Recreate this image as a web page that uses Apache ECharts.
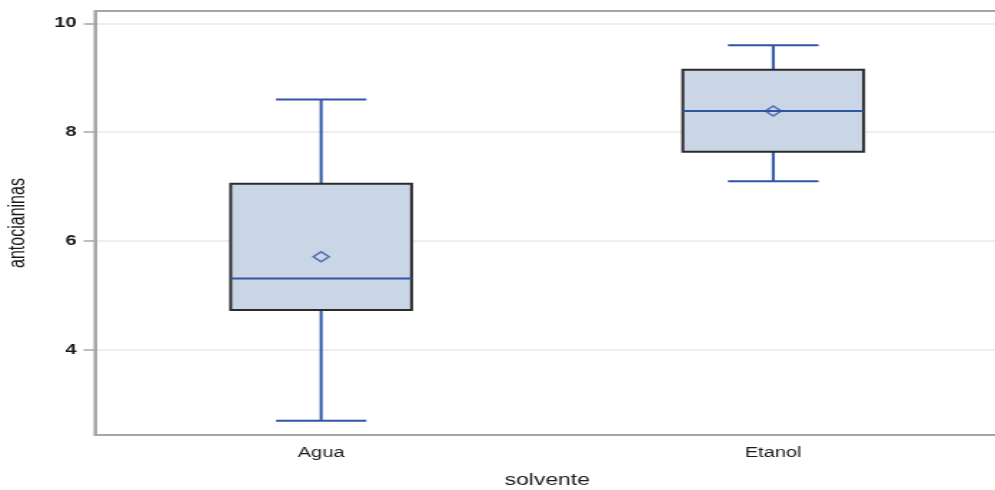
<!DOCTYPE html>
<html>
<head>
<meta charset="utf-8">
<title>antocianinas por solvente</title>
<script src="https://cdn.jsdelivr.net/npm/echarts@6/dist/echarts.min.js"></script>
<style>
  html, body { margin: 0; padding: 0; background: #ffffff; overflow: hidden; }
  /* the original picture is stretched sideways, so the chart is drawn narrow and stretched the same way */
  #main { width: 696px; height: 490px; transform: scaleX(1.4296); transform-origin: 0 0; }
</style>
</head>
<body>
<div id="main"></div>
<script>
// categorías y estadísticos de cada caja
const categories = ['Agua', 'Etanol'];
const lowWhisker = [2.69, 7.10];
const q1 = [4.73, 7.64];
const median = [5.31, 8.39];
const q3 = [7.05, 9.15];
const highWhisker = [8.60, 9.60];
const mean = [5.71, 8.39];
const yTicks = [4, 6, 8, 10];

const BLUE = '#2f55a5';
const AXIS_GREY = '#a6a6a6';

// dibuja una caja con bigotes usando las escalas de los ejes
function renderBox(params, api) {
  const x = api.value(0);
  const pLow = api.coord([x, api.value(1)]);
  const pQ1 = api.coord([x, api.value(2)]);
  const pMed = api.coord([x, api.value(3)]);
  const pQ3 = api.coord([x, api.value(4)]);
  const pHigh = api.coord([x, api.value(5)]);
  const band = api.size([1, 0])[0];
  const boxW = band * 0.4;
  const capW = boxW / 2;
  const cx = pMed[0];
  const lineStyle = { stroke: BLUE, lineWidth: 2 };

  return {
    type: 'group',
    children: [
      { type: 'line', shape: { x1: cx, y1: pQ3[1], x2: cx, y2: pHigh[1] }, style: lineStyle },
      { type: 'line', shape: { x1: cx, y1: pLow[1], x2: cx, y2: pQ1[1] }, style: lineStyle },
      { type: 'line', shape: { x1: cx - capW / 2, y1: pHigh[1], x2: cx + capW / 2, y2: pHigh[1] }, style: lineStyle },
      { type: 'line', shape: { x1: cx - capW / 2, y1: pLow[1], x2: cx + capW / 2, y2: pLow[1] }, style: lineStyle },
      {
        type: 'rect',
        shape: { x: cx - boxW / 2, y: pQ3[1], width: boxW, height: pQ1[1] - pQ3[1] },
        style: { fill: '#cad5e6', stroke: '#2b2b2b', lineWidth: 2 }
      },
      { type: 'line', shape: { x1: cx - boxW / 2, y1: pMed[1], x2: cx + boxW / 2, y2: pMed[1] }, style: lineStyle }
    ]
  };
}

function getOption() {
  const boxData = categories.map((c, i) => [i, lowWhisker[i], q1[i], median[i], q3[i], highWhisker[i]]);
  const meanData = categories.map((c, i) => [i, mean[i]]);

  return {
    backgroundColor: '#ffffff',
    animation: false,
    textStyle: { fontFamily: 'Liberation Sans, Arial, sans-serif' },
    grid: {
      left: 66.5,
      right: -3,
      top: 11,
      bottom: 55,
      outerBoundsMode: 'none',
      show: true,
      borderColor: AXIS_GREY,
      borderWidth: 2
    },
    xAxis: {
      type: 'category',
      data: categories,
      boundaryGap: true,
      name: 'solvente',
      nameLocation: 'middle',
      nameGap: 38,
      nameTextStyle: { fontSize: 16, color: '#1a1a1a' },
      axisLine: { lineStyle: { color: AXIS_GREY, width: 2 } },
      axisTick: { alignWithLabel: true, length: 6, lineStyle: { color: AXIS_GREY, width: 2 } },
      axisLabel: { fontSize: 14, color: '#1a1a1a', margin: 11 },
      splitLine: { show: false }
    },
    yAxis: {
      type: 'value',
      min: 2.43,
      max: 10.23,
      splitNumber: 4,
      name: 'antocianinas',
      nameLocation: 'middle',
      nameRotate: 90,
      nameGap: 46,
      nameTextStyle: { fontSize: 16, color: '#1a1a1a' },
      axisLine: { show: true, lineStyle: { color: AXIS_GREY, width: 2 } },
      axisTick: { show: true, length: 8, customValues: yTicks, lineStyle: { color: AXIS_GREY, width: 1.5 } },
      axisLabel: { fontSize: 14, color: '#1a1a1a', fontWeight: 'bold', margin: 13, customValues: yTicks },
      splitLine: { lineStyle: { color: '#e9e9e9', width: 1.5 } }
    },
    series: [
      {
        name: 'caja',
        type: 'custom',
        renderItem: renderBox,
        encode: { x: 0, y: [1, 2, 3, 4, 5] },
        data: boxData,
        z: 2
      },
      {
        name: 'media',
        type: 'scatter',
        data: meanData,
        symbol: 'diamond',
        symbolSize: [11, 10],
        itemStyle: { color: 'transparent', borderColor: BLUE, borderWidth: 1.5 },
        z: 3
      }
    ]
  };
}

const chart = echarts.init(document.getElementById('main'));
chart.setOption(getOption());
</script>
</body>
</html>
